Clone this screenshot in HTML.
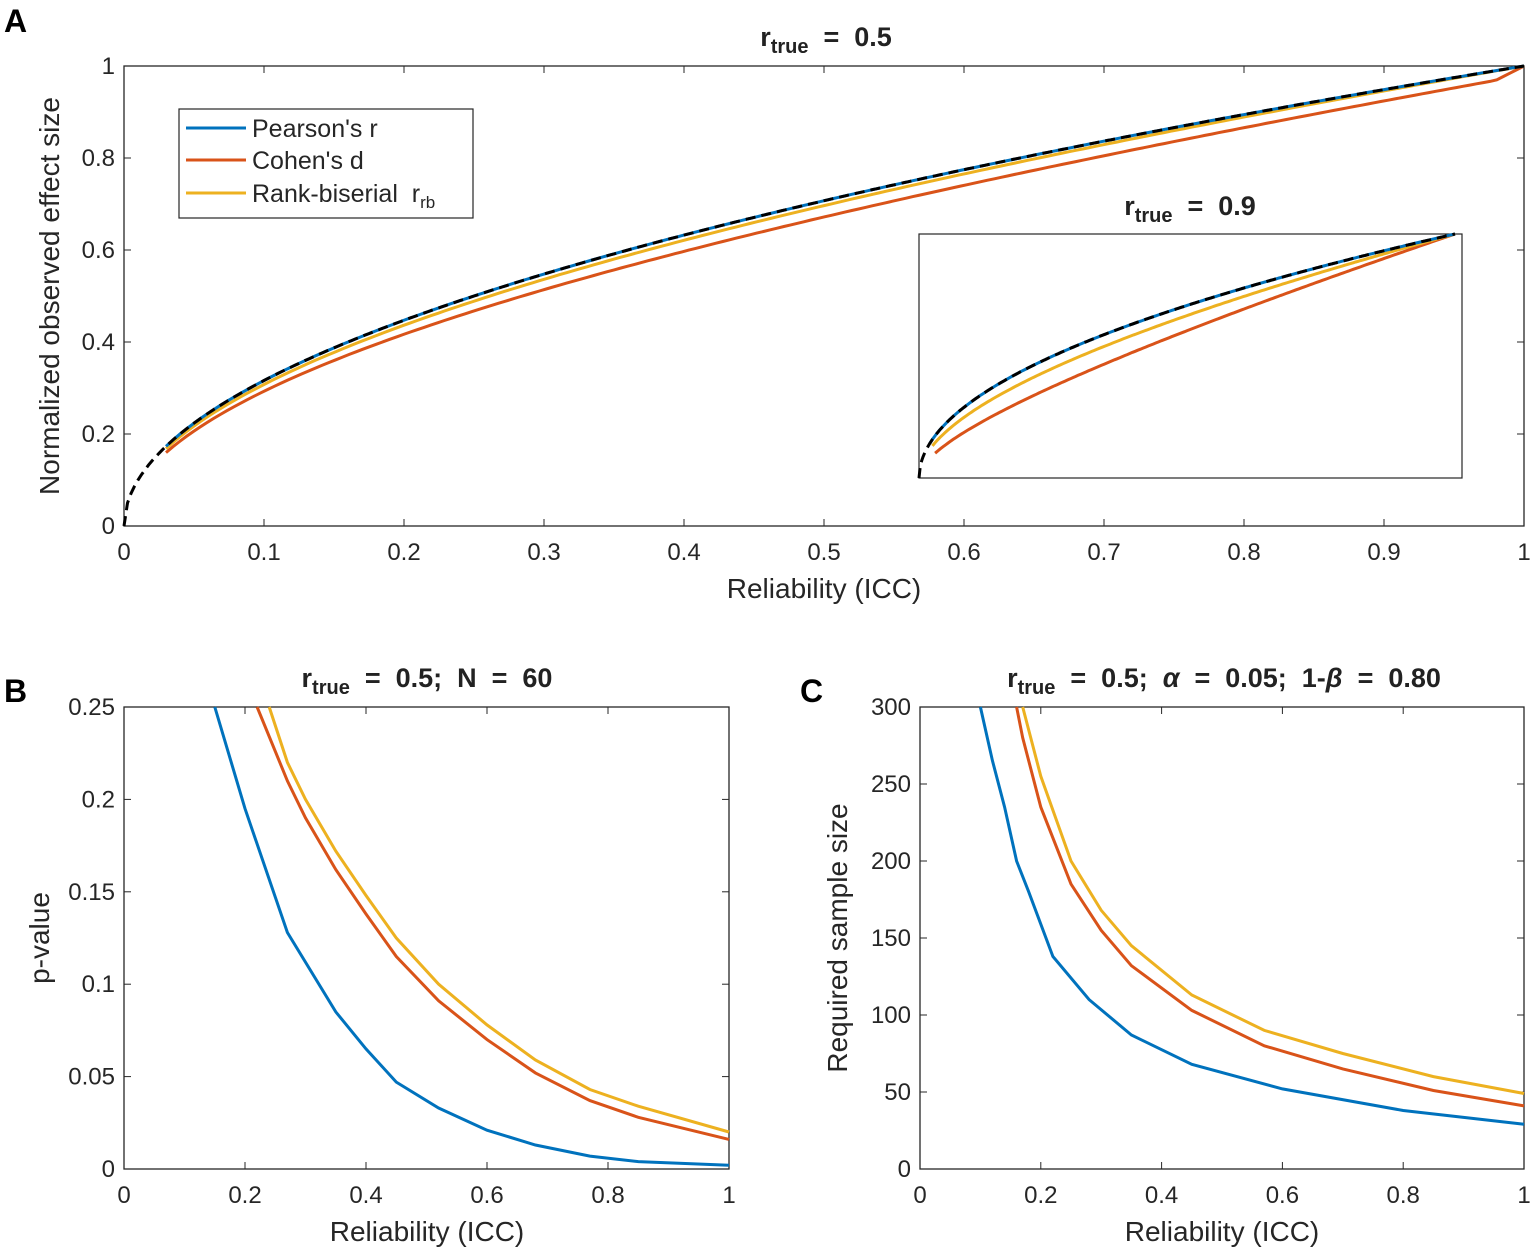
<!DOCTYPE html>
<html><head><meta charset="utf-8"><style>
body{margin:0;background:#fff}
svg{display:block;font-family:"Liberation Sans",Arial,sans-serif}
text{white-space:pre}
</style></head><body>
<svg id="s" width="1535" height="1254" viewBox="0 0 1535 1254" xmlns="http://www.w3.org/2000/svg">
<rect width="1535" height="1254" fill="#fff"/>
<g font-weight="bold" font-size="32" fill="#000">
<text x="4" y="32">A</text><text x="4" y="702">B</text><text x="800" y="702">C</text>
</g>
<g font-weight="bold" font-size="27" text-anchor="middle" fill="#222">
<text x="826" y="46">r<tspan font-size="20" dy="7">true</tspan><tspan dy="-7">&#160; = &#160;0.5</tspan></text>
<text x="1190" y="215">r<tspan font-size="20" dy="7">true</tspan><tspan dy="-7">&#160; = &#160;0.9</tspan></text>
<text x="427" y="687">r<tspan font-size="20" dy="7">true</tspan><tspan dy="-7">&#160; = &#160;0.5;&#160; N &#160;= &#160;60</tspan></text>
<text x="1224" y="687">r<tspan font-size="20" dy="7">true</tspan><tspan dy="-7">&#160; = &#160;0.5;&#160; </tspan><tspan font-style="italic">α</tspan><tspan>&#160; = &#160;0.05;&#160; 1-</tspan><tspan font-style="italic">β</tspan><tspan>&#160; = &#160;0.80</tspan></text>
</g>
<g id="g"></g>
</svg>
<script>
var g=document.getElementById('g'),h='';
function ax(x0,x1,y0,y1,xt,xl,yt,yl,fs){
 h+='<rect x="'+x0+'" y="'+y1+'" width="'+(x1-x0)+'" height="'+(y0-y1)+'" fill="none" stroke="#262626" stroke-width="1.3"/>';
 xt.forEach(function(v,i){var x=x0+(x1-x0)*v;h+='<line x1="'+x+'" x2="'+x+'" y1="'+y0+'" y2="'+(y0-7)+'" stroke="#262626"/><line x1="'+x+'" x2="'+x+'" y1="'+y1+'" y2="'+(y1+7)+'" stroke="#262626"/><text x="'+x+'" y="'+(y0+34)+'" font-size="'+fs+'" text-anchor="middle" fill="#262626">'+xl[i]+'</text>';});
 yt.forEach(function(v,i){var y=y0-(y0-y1)*v;h+='<line x1="'+x0+'" x2="'+(x0+7)+'" y1="'+y+'" y2="'+y+'" stroke="#262626"/><line x1="'+x1+'" x2="'+(x1-7)+'" y1="'+y+'" y2="'+y+'" stroke="#262626"/><text x="'+(x0-9)+'" y="'+(y+8)+'" font-size="'+fs+'" text-anchor="end" fill="#262626">'+yl[i]+'</text>';});
}
function pl(pts,c,w,d){h+='<polyline fill="none" stroke="'+c+'" stroke-width="'+w+'" '+(d?'stroke-dasharray="'+d+'"':'')+' points="'+pts.map(function(p){return p[0].toFixed(1)+','+p[1].toFixed(1)}).join(' ')+'"/>';}
function fn(f,a,b,X0,X1,Y0,Y1,n){var r=[];for(var i=0;i<=n;i++){var x=a+(b-a)*i/n;r.push([X0+(X1-X0)*x,Y0-(Y0-Y1)*f(x)]);}return r;}
var xt=[],xl=[];for(var i=0;i<=10;i++){xt.push(i/10);xl.push(i==0?'0':i==10?'1':(i/10).toFixed(1));}
var yt=[],yl=[];for(var i=0;i<=5;i++){yt.push(i/5);yl.push(i==0?'0':i==5?'1':(i/5).toFixed(1));}
ax(124,1524,526,66,xt,xl,yt,yl,24);
pl(fn(function(x){return Math.sqrt(x)*(0.92+0.06*x)+(x>0.98?(x-0.98)*1:0)},0.03,1,124,1524,526,66,200),'#D95319',3);
pl(fn(function(x){return Math.sqrt(x)*(0.97+0.03*x)},0.03,1,124,1524,526,66,200),'#EDB120',3);
pl(fn(function(x){return Math.sqrt(x)},0.03,1,124,1524,526,66,200),'#0072BD',3);
pl(fn(function(x){return Math.sqrt(x)},0,1,124,1524,526,66,400),'#000',3,'10,6');
h+='<text x="824" y="598" font-size="28" text-anchor="middle" fill="#262626">Reliability (ICC)</text>';
h+='<text transform="translate(59,296) rotate(-90)" font-size="28" text-anchor="middle" fill="#262626">Normalized observed effect size</text>';
h+='<rect x="179" y="109" width="294" height="109" fill="#fff" stroke="#262626" stroke-width="1.2"/>';
[['#0072BD',128,"Pearson's r"],['#D95319',160,"Cohen's d"],['#EDB120',193,"Rank-biserial  r<tspan font-size='17' dy='6'>rb</tspan>"]].forEach(function(e){h+='<line x1="186" x2="246" y1="'+e[1]+'" y2="'+e[1]+'" stroke="'+e[0]+'" stroke-width="3"/><text x="252" y="'+(e[1]+9)+'" font-size="25" fill="#262626">'+e[2]+'</text>';});
h+='<rect x="919" y="234" width="543" height="244" fill="#fff" stroke="#262626" stroke-width="1.2"/>';
var IX1=1455;
pl(fn(function(x){return 0.5*Math.sqrt(x)+0.5*x},0.03,1,919,IX1,478,234,200),'#D95319',3);
pl(fn(function(x){return 0.8*Math.sqrt(x)+0.2*x},0.025,1,919,IX1,478,234,200),'#EDB120',3);
pl(fn(function(x){return Math.sqrt(x)},0.02,1,919,IX1,478,234,200),'#0072BD',3);
pl(fn(function(x){return Math.sqrt(x)},0,1,919,IX1,478,234,400),'#000',3,'10,6');
function dp(arr,X0,X1,Y0,Y1,ym){return arr.map(function(p){return [X0+(X1-X0)*p[0],Y0-(Y0-Y1)*p[1]/ym]});}
ax(124,729,1169,707,[0,.2,.4,.6,.8,1],['0','0.2','0.4','0.6','0.8','1'],[0,.2,.4,.6,.8,1],['0','0.05','0.1','0.15','0.2','0.25'],24);
pl(dp([[0.15,.25],[.2,.195],[.27,.128],[.35,.085],[.4,.065],[.45,.047],[.52,.033],[.6,.021],[.68,.013],[.77,.007],[.85,.004],[1,.002]],124,729,1169,707,.25),'#0072BD',3);
pl(dp([[.22,.25],[.27,.21],[.3,.19],[.35,.162],[.4,.138],[.45,.115],[.52,.091],[.6,.07],[.68,.052],[.77,.037],[.85,.028],[1,.016]],124,729,1169,707,.25),'#D95319',3);
pl(dp([[.24,.25],[.27,.22],[.3,.2],[.35,.172],[.4,.148],[.45,.125],[.52,.1],[.6,.078],[.68,.059],[.77,.043],[.85,.034],[1,.02]],124,729,1169,707,.25),'#EDB120',3);
h+='<text x="427" y="1241" font-size="28" text-anchor="middle" fill="#262626">Reliability (ICC)</text>';
h+='<text transform="translate(49,938) rotate(-90)" font-size="28" text-anchor="middle" fill="#262626">p-value</text>';
ax(920,1524,1169,707,[0,.2,.4,.6,.8,1],['0','0.2','0.4','0.6','0.8','1'],[0,1/6,2/6,3/6,4/6,5/6,1],['0','50','100','150','200','250','300'],24);
pl(dp([[.1,300],[.12,265],[.14,235],[.16,200],[.18,180],[.22,138],[.28,110],[.35,87],[.45,68],[.6,52],[.8,38],[1,29]],920,1524,1169,707,300),'#0072BD',3);
pl(dp([[.16,300],[.17,280],[.2,235],[.25,185],[.3,155],[.35,132],[.45,103],[.57,80],[.7,65],[.85,51],[1,41]],920,1524,1169,707,300),'#D95319',3);
pl(dp([[.17,300],[.2,255],[.25,200],[.3,168],[.35,145],[.45,113],[.57,90],[.7,75],[.85,60],[1,49]],920,1524,1169,707,300),'#EDB120',3);
h+='<text x="1222" y="1241" font-size="28" text-anchor="middle" fill="#262626">Reliability (ICC)</text>';
h+='<text transform="translate(847,938) rotate(-90)" font-size="28" text-anchor="middle" fill="#262626">Required sample size</text>';
g.innerHTML=h;
</script>
</body></html>
